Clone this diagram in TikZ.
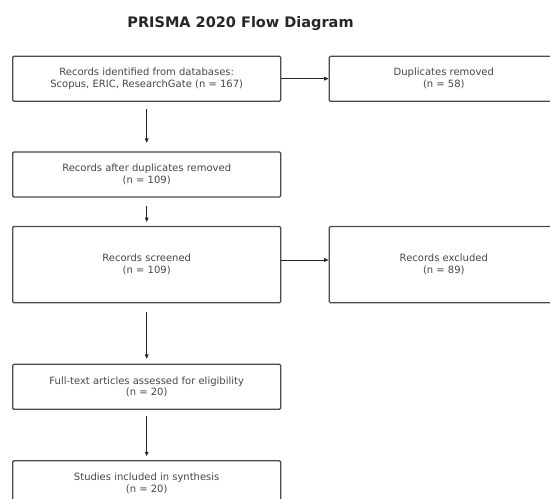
\documentclass[tikz,border=0pt]{standalone}
\usepackage{fontspec}
\setmainfont{DejaVu Sans}
\usetikzlibrary{arrows.meta}
\begin{document}
\begin{tikzpicture}[x=1pt,y=-1pt,
  box/.style={draw=black!70, line width=1.3pt, rounded corners=1.2pt, fill=white,
    rectangle, inner sep=0pt, align=center, text=black!72,
    font=\fontsize{10}{11.7}\selectfont},
  arr/.style={draw=black!85, line width=0.9pt, -{Triangle[length=4.5pt,width=3.6pt]}},
  ttl/.style={font=\fontsize{14.5}{17}\selectfont\bfseries, text=black!85, inner sep=0pt}]
\useasboundingbox (0,0) rectangle (550,499);
\clip (0,0) rectangle (550,499);
\fill[white] (0,0) rectangle (550,499);

\node[ttl] (title) at (240.5,23.5) {PRISMA 2020 Flow Diagram};

\node[box, minimum width=268pt, minimum height=45pt] (b1) at (146.7,78.7)
  {Records identified from databases:\\Scopus, ERIC, ResearchGate (n = 167)};
\node[box, minimum width=229pt, minimum height=45pt] (d1) at (443.8,78.7)
  {Duplicates removed\\(n = 58)};
\node[box, minimum width=268pt, minimum height=45pt] (b2) at (146.7,174.5)
  {Records after duplicates removed\\(n = 109)};
\node[box, minimum width=268pt, minimum height=76.3pt] (b3) at (146.7,264.6)
  {Records screened\\(n = 109)};
\node[box, minimum width=229pt, minimum height=76.3pt] (e1) at (443.8,264.6)
  {Records excluded\\(n = 89)};
\node[box, minimum width=268pt, minimum height=45pt] (b4) at (146.7,386.8)
  {Full-text articles assessed for eligibility\\(n = 20)};
\node[box, minimum width=268pt, minimum height=45pt] (b5) at (146.7,483.2)
  {Studies included in synthesis\\(n = 20)};

\draw[arr, shorten <=7.5pt, shorten >=8.5pt] (b1.south) -- (b2.north);
\draw[arr, shorten <=8.5pt, shorten >=3.8pt] (b2.south) -- (b3.north);
\draw[arr, shorten <=8.5pt, shorten >=4.8pt] (b3.south) -- (b4.north);
\draw[arr, shorten <=6.5pt, shorten >=3.8pt] (b4.south) -- (b5.north);
\draw[arr] (b1.east) -- (d1.west);
\draw[arr] ([yshift=4.6pt]b3.east) -- ([yshift=4.6pt]e1.west);
\end{tikzpicture}
\end{document}
